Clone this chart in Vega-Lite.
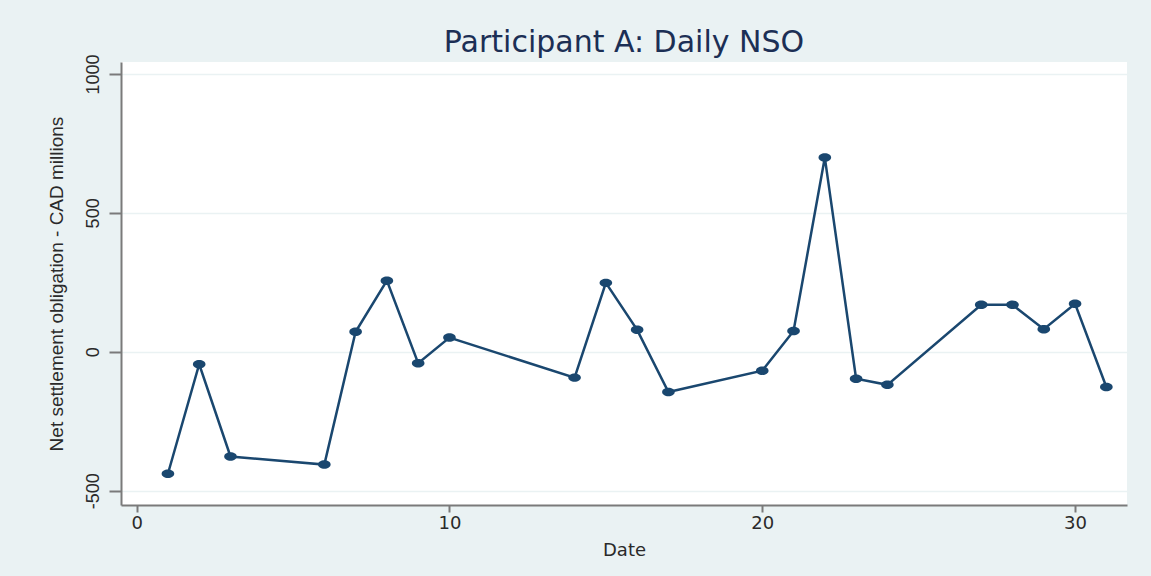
{
  "$schema": "https://vega.github.io/schema/vega-lite/v6.json",
  "width": 1006,
  "height": 443,
  "autosize": {"type": "none"},
  "padding": {"left": 121, "top": 62, "right": 24, "bottom": 71},
  "background": "#eaf2f3",
  "view": {"fill": "white", "stroke": null},
  "title": {
    "text": "Participant A: Daily NSO",
    "font": "DejaVu Sans",
    "fontSize": 30,
    "fontWeight": "normal",
    "color": "#1c2f55",
    "anchor": "middle",
    "baseline": "alphabetic",
    "offset": 2,
    "dy": 30
  },
  "data": {
    "values": [
      {"day": 1, "nso": -439},
      {"day": 2, "nso": -45},
      {"day": 3, "nso": -377},
      {"day": 6, "nso": -406},
      {"day": 7, "nso": 72},
      {"day": 8, "nso": 256},
      {"day": 9, "nso": -41},
      {"day": 10, "nso": 51},
      {"day": 14, "nso": -93},
      {"day": 15, "nso": 248},
      {"day": 16, "nso": 79},
      {"day": 17, "nso": -145},
      {"day": 20, "nso": -68},
      {"day": 21, "nso": 75},
      {"day": 22, "nso": 699},
      {"day": 23, "nso": -97},
      {"day": 24, "nso": -119},
      {"day": 27, "nso": 169},
      {"day": 28, "nso": 169},
      {"day": 29, "nso": 81},
      {"day": 30, "nso": 173},
      {"day": 31, "nso": -127}
    ]
  },
  "encoding": {
    "x": {
      "field": "day",
      "type": "quantitative",
      "scale": {"domain": [-0.5, 31.66], "nice": false, "zero": false},
      "axis": {
        "title": "Date",
        "values": [0, 10, 20, 30],
        "grid": false,
        "domainColor": "#7a7a7a",
        "domainWidth": 2,
        "tickColor": "#7a7a7a",
        "tickWidth": 2,
        "tickSize": 7,
        "labelFont": "DejaVu Sans",
        "labelFontSize": 18,
        "labelPadding": 2,
        "labelColor": "#2a2a2a",
        "labelFlush": false,
        "titleFont": "DejaVu Sans",
        "titleFontSize": 18,
        "titleFontWeight": "normal",
        "titleColor": "#2a2a2a",
        "titleY": 50,
        "titleBaseline": "alphabetic"
      }
    },
    "y": {
      "field": "nso",
      "type": "quantitative",
      "scale": {"domain": [-551.5, 1043], "nice": false, "zero": false},
      "axis": {
        "title": "Net settlement obligation - CAD millions",
        "values": [-500, 0, 500, 1000],
        "labelExpr": "datum.value + ''",
        "grid": true,
        "gridColor": "#eaf2f3",
        "gridWidth": 1.5,
        "domainColor": "#7a7a7a",
        "domainWidth": 2,
        "tickColor": "#7a7a7a",
        "tickWidth": 2,
        "tickSize": 12,
        "labelAngle": -90,
        "labelAlign": "center",
        "labelBaseline": "alphabetic",
        "labelPadding": 11,
        "labelFont": "Liberation Sans",
        "labelFontSize": 18,
        "labelColor": "#2a2a2a",
        "labelFlush": false,
        "titleFont": "Liberation Sans",
        "titleFontSize": 19,
        "titleFontWeight": "normal",
        "titleColor": "#2a2a2a",
        "titleAngle": -90,
        "titleX": -59,
        "titleY": 221.5,
        "titleAlign": "center",
        "titleBaseline": "alphabetic"
      }
    }
  },
  "layer": [
    {"mark": {"type": "line", "color": "#1a476f", "strokeWidth": 2.5}},
    {
      "mark": {
        "type": "point",
        "filled": true,
        "opacity": 1,
        "color": "#1a476f",
        "shape": "M -1 0 A 1 0.67 0 1 1 1 0 A 1 0.67 0 1 1 -1 0 Z",
        "size": 160
      }
    }
  ]
}
